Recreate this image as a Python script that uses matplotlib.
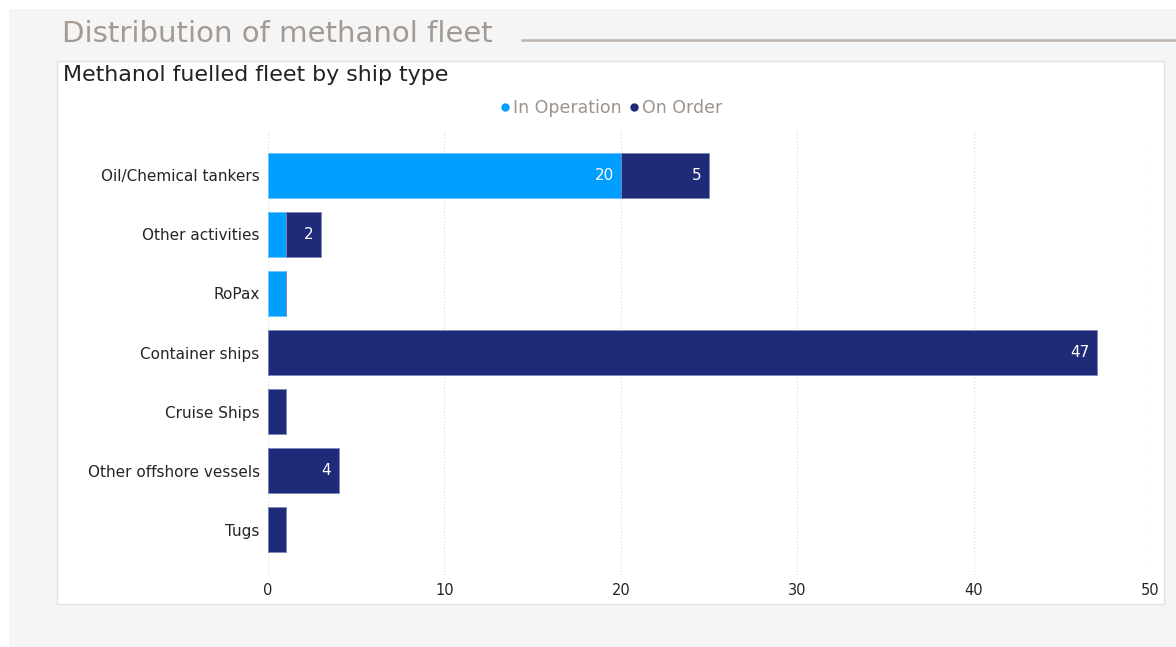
import matplotlib.pyplot as plt
import matplotlib.patches as mpatches
from matplotlib.lines import Line2D
import numpy as np

ship_types = ["Oil/Chemical tankers", "Other activities", "RoPax", "Container ships",
              "Cruise Ships", "Other offshore vessels", "Tugs"]
in_operation = [20, 1, 1, 0, 0, 0, 0]
on_order = [5, 2, 0, 47, 1, 4, 1]
x_ticks = [0, 10, 20, 30, 40, 50]

LIGHT = "#009eff"
NAVY = "#1f2a78"

fig = plt.figure(figsize=(11.76, 6.47), dpi=100)
fig.patch.set_facecolor("white")

# page background and white card
W, H = 1176, 647
def px_rect(x0, y0, x1, y1, **kw):
    return mpatches.Rectangle((x0 / W, 1 - y1 / H), (x1 - x0) / W, (y1 - y0) / H,
                              transform=fig.transFigure, **kw)

fig.patches.append(px_rect(9, 9, 1176, 647, facecolor="#f5f5f5", edgecolor="none", zorder=-3))
fig.patches.append(px_rect(57, 61, 1164, 604, facecolor="white", edgecolor="#e2e2e2",
                           linewidth=1, zorder=-2))

fig.text(62 / W, 1 - 34 / H, "Distribution of methanol fleet", fontsize=21,
         color="#a39a93", va="center", ha="left")
fig.add_artist(Line2D([522 / W, 1.0], [1 - 40 / H, 1 - 40 / H], transform=fig.transFigure,
                      color="#bdb5ad", linewidth=1.8))
fig.text(63 / W, 1 - 75 / H, "Methanol fuelled fleet by ship type", fontsize=15.9,
         color="#222222", va="center", ha="left")

ax = fig.add_axes([268 / W, 1 - 575 / H, (1150 - 268) / W, 445 / H])
ax.set_facecolor("none")
ax.set_zorder(2)

y = np.arange(len(ship_types))
op = np.array(in_operation)
od = np.array(on_order)
bh = 0.765
ax.barh(y, op, height=bh, color=LIGHT, edgecolor="#6cc4ff", linewidth=0.6, zorder=3)
ax.barh(y, od, left=op, height=bh, color=NAVY, edgecolor="#7d86b8", linewidth=0.6, zorder=3)

# value labels inside the end of each segment (small values left unlabelled)
for yi, a, b in zip(y, op, od):
    if a >= 2:
        ax.annotate(str(a), (a, yi), xytext=(-5, 0), textcoords="offset points",
                    ha="right", va="center", color="white", fontsize=11, zorder=4)
    if b >= 2:
        ax.annotate(str(b), (a + b, yi), xytext=(-5.5, 0), textcoords="offset points",
                    ha="right", va="center", color="white", fontsize=11, zorder=4)

ax.set_xlim(0, 50)
ax.set_ylim(len(ship_types) - 1 + 0.77, -0.77)
ax.set_xticks(x_ticks)
ax.set_yticks(y)
ax.set_yticklabels(ship_types)
ax.tick_params(axis="both", length=0, labelcolor="#252525")
ax.tick_params(axis="y", pad=6, labelsize=11)
ax.tick_params(axis="x", pad=6, labelsize=10.5)
ax.grid(axis="x", color="#d8d8d8", linestyle=(0, (1, 2)), linewidth=0.8, zorder=0)
for s in ax.spines.values():
    s.set_visible(False)

handles = [Line2D([], [], marker="o", linestyle="none", color=LIGHT, markersize=5),
           Line2D([], [], marker="o", linestyle="none", color=NAVY, markersize=5)]
fig.legend(handles, ["In Operation", "On Order"], loc="center", ncol=2,
           bbox_to_anchor=(610 / W, 1 - 108 / H), frameon=False, fontsize=12.5,
           labelcolor="#9d948d", handletextpad=0.05, columnspacing=0.3, handlelength=0.8)

fig.savefig("out.png", dpi=100)
